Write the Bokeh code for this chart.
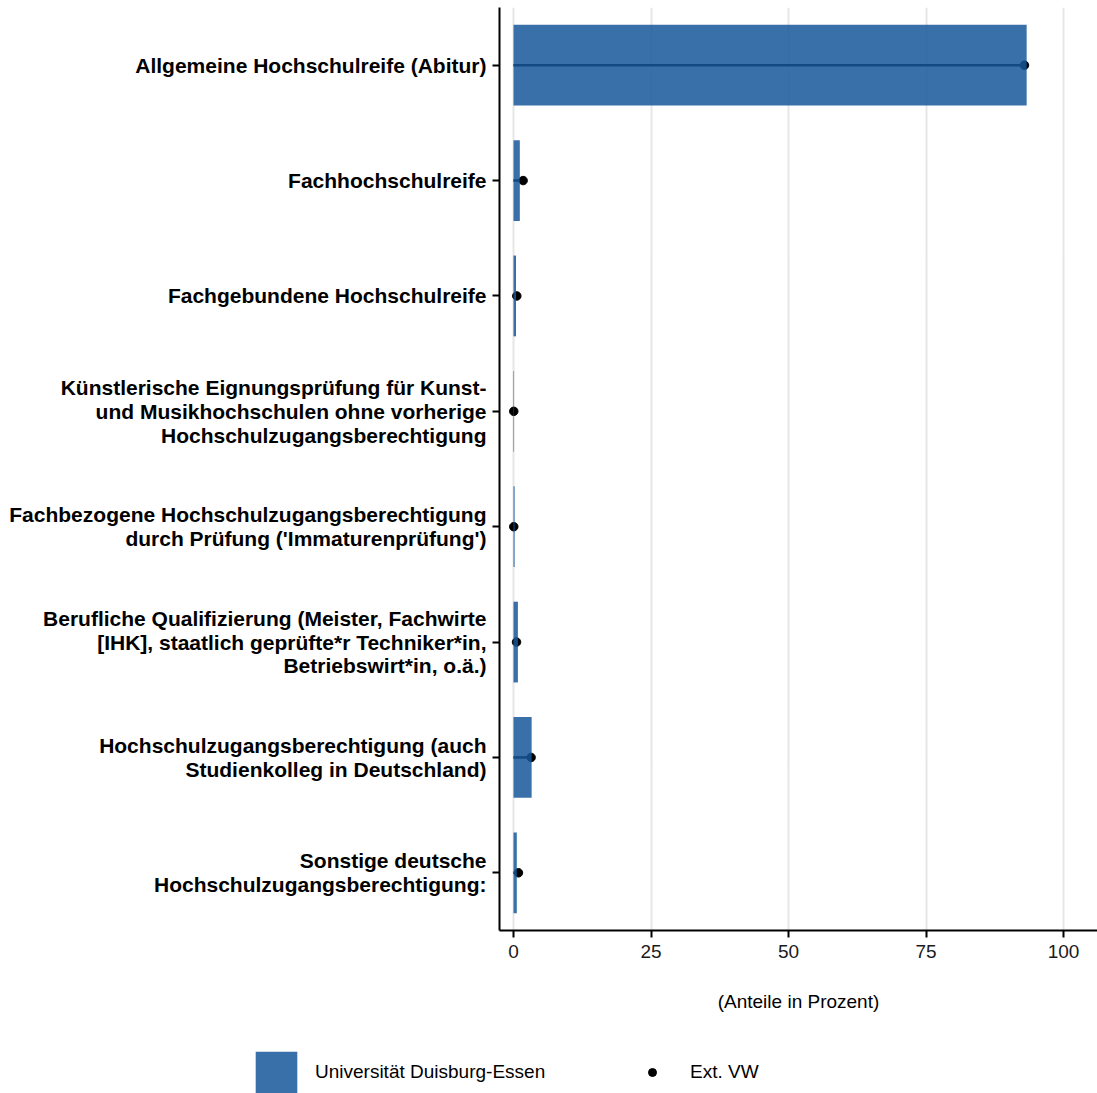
from bokeh.plotting import figure
from bokeh.layouts import column, row
from bokeh.models import FactorRange, Range1d, FixedTicker, Legend, LegendItem, ColumnDataSource
from bokeh.embed import file_html
from bokeh.resources import INLINE

categories = [
    "Allgemeine Hochschulreife (Abitur)",
    "Fachhochschulreife",
    "Fachgebundene Hochschulreife",
    "Künstlerische Eignungsprüfung für Kunst-\nund Musikhochschulen ohne vorherige\nHochschulzugangsberechtigung",
    "Fachbezogene Hochschulzugangsberechtigung\ndurch Prüfung ('Immaturenprüfung')",
    "Berufliche Qualifizierung (Meister, Fachwirte\n[IHK], staatlich geprüfte*r Techniker*in,\nBetriebswirt*in, o.ä.)",
    "Hochschulzugangsberechtigung (auch\nStudienkolleg in Deutschland)",
    "Sonstige deutsche\nHochschulzugangsberechtigung:",
]
ude_values = [93.3, 1.15, 0.45, 0.1, 0.2, 0.8, 3.3, 0.6]
ext_vw_values = [92.9, 1.75, 0.6, 0.05, 0.05, 0.55, 3.2, 0.9]
x_ticks = [0, 25, 50, 75, 100]
series_labels = ["Universität Duisburg-Essen", "Ext. VW"]

FONT = "Liberation Sans"
BAR_COLOR = "#17579a"

src = ColumnDataSource(dict(cat=categories, ude=ude_values, ext=ext_vw_values,
                            zero=[0] * len(categories)))

p = figure(width=1097, height=1030, output_backend="svg", toolbar_location=None,
           y_range=FactorRange(factors=list(reversed(categories)), range_padding=0),
           x_range=Range1d(-2.545, 106.18),
           min_border_left=499, min_border_right=0, min_border_top=7, min_border_bottom=100)
p.outline_line_color = None
p.background_fill_color = "white"
p.border_fill_color = "white"

p.segment(x0="zero", y0="cat", x1="ext", y1="cat", source=src,
          line_color="black", line_width=2.5)
p.scatter(x="ext", y="cat", source=src, size=8.5, fill_color="black",
          line_color="black", marker="circle")
p.hbar(y="cat", left=0, right="ude", height=0.7, source=src,
       fill_color=BAR_COLOR, fill_alpha=0.85, line_color=None)

# grid
p.xgrid.ticker = FixedTicker(ticks=x_ticks)
p.xgrid.grid_line_color = "#e6e6e6"
p.xgrid.grid_line_width = 2
p.ygrid.grid_line_color = None

# x axis
p.xaxis.ticker = FixedTicker(ticks=x_ticks)
p.xaxis.axis_line_width = 2
p.xaxis.axis_line_color = "black"
p.xaxis.major_tick_line_width = 2
p.xaxis.major_tick_out = 7
p.xaxis.major_tick_in = 0
p.xaxis.minor_tick_line_color = None
p.xaxis.major_label_text_font = FONT
p.xaxis.major_label_text_font_size = "19px"
p.xaxis.major_label_text_color = "#1a1a1a"
p.xaxis.major_label_standoff = 7
p.xaxis.axis_label = "(Anteile in Prozent)"
p.xaxis.axis_label_text_font = FONT
p.xaxis.axis_label_text_font_size = "19px"
p.xaxis.axis_label_text_font_style = "normal"
p.xaxis.axis_label_text_color = "black"
p.xaxis.axis_label_standoff = 30

# y axis
p.yaxis.axis_line_width = 2
p.yaxis.axis_line_color = "black"
p.yaxis.major_tick_line_width = 2
p.yaxis.major_tick_out = 7
p.yaxis.major_tick_in = 0
p.yaxis.major_label_text_font = FONT
p.yaxis.major_label_text_font_size = "21px"
p.yaxis.major_label_text_font_style = "bold"
p.yaxis.major_label_text_color = "black"
p.yaxis.major_label_text_align = "right"
p.yaxis.major_label_text_line_height = 1.03
p.yaxis.major_label_standoff = 6

# legend strip below the chart
lg = figure(width=1097, height=63, output_backend="svg", toolbar_location=None,
            x_range=Range1d(0, 1), y_range=FactorRange(factors=categories),
            x_axis_type=None, y_axis_type=None, min_border=0)
lg.outline_line_color = None
lg.xgrid.visible = False
lg.ygrid.visible = False
key_bar = lg.hbar(y="cat", left=0, right="ude", height=0.7, source=src,
                  fill_color=BAR_COLOR, fill_alpha=0.85, line_color=None, visible=False)
key_pt = lg.scatter(x="ext", y="cat", source=src, size=8.5, fill_color="black",
                    line_color="black", marker="circle", visible=False)


def make_legend(item, loc, gw, gh, standoff):
    lgd = Legend(items=[item], orientation="horizontal", location=loc)
    lgd.glyph_width = gw
    lgd.glyph_height = gh
    lgd.label_height = gh
    lgd.label_standoff = standoff
    lgd.padding = 0
    lgd.margin = 0
    lgd.border_line_color = None
    lgd.background_fill_alpha = 0
    lgd.label_text_font = FONT
    lgd.label_text_font_size = "19px"
    lgd.label_text_color = "black"
    return lgd


lg.add_layout(make_legend(LegendItem(label=series_labels[0], renderers=[key_bar]),
                          (250, -5), 52, 52, 13), "center")
lg.add_layout(make_legend(LegendItem(label=series_labels[1], renderers=[key_pt]),
                          (642, 10), 20, 20, 28), "center")

layout = column(p, row(lg, spacing=0), spacing=0)
open("out.html", "w").write(file_html(layout, INLINE))
